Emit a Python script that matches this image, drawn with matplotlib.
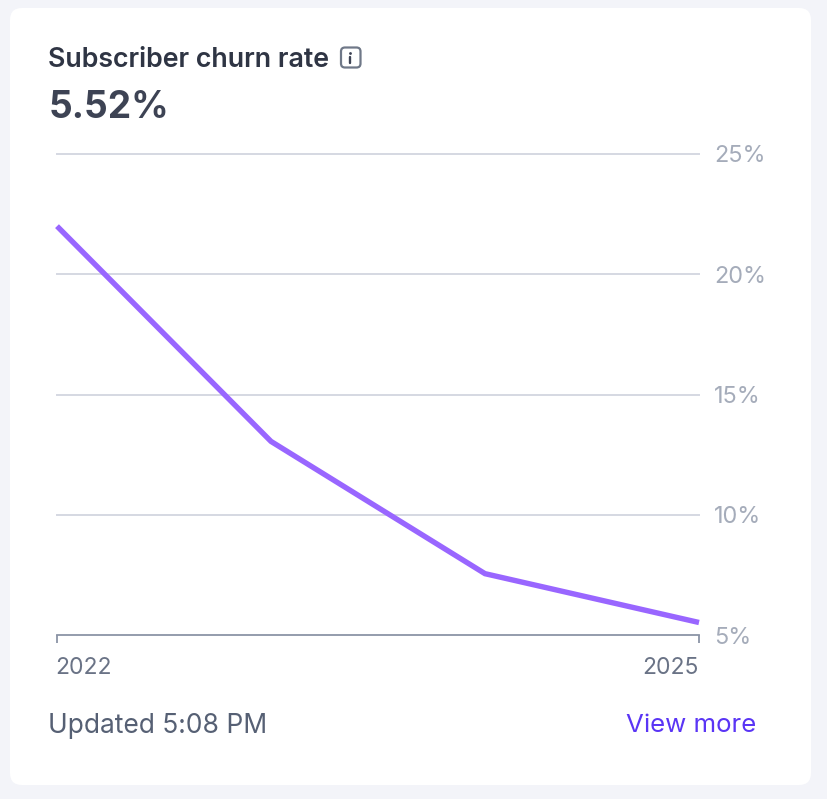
import matplotlib
matplotlib.use('Agg')
import matplotlib.pyplot as plt
from matplotlib.patches import FancyBboxPatch, Circle
from matplotlib.transforms import ScaledTranslation

plt.rcParams['font.family'] = ['Inter', 'DejaVu Sans']

years = [2022, 2023, 2024, 2025]
churn = [22.0, 13.05, 7.55, 5.52]
y_ticks = [5, 10, 15, 20, 25]
x_tick_years = [2022, 2025]

W, H = 828, 799
fig = plt.figure(figsize=(W / 100, H / 100), dpi=100, facecolor='#f3f4f9')

# overlay in pixel coordinates for the card and texts
bg = fig.add_axes([0, 0, 1, 1], zorder=0)
bg.set_xlim(0, W)
bg.set_ylim(H, 0)
bg.axis('off')
bg.add_patch(FancyBboxPatch((10, 8), 801, 777, boxstyle='round,pad=0,rounding_size=12',
                            fc='white', ec='none'))

bg.text(48.5, 60, 'Subscriber churn rate', fontsize=19.3, fontweight=600, color='#2f3544', va='center', ha='left')
bg.text(48.5, 108, '5.52%', fontsize=26.7, fontweight='bold', color='#3d4354', va='center', ha='left')
bg.text(48.5, 726, 'Updated 5:08 PM', fontsize=19, color='#566074', va='center', ha='left')
bg.text(756, 726, 'View more', fontsize=18.6, color='#5a35f5', va='center', ha='right')

# info icon
bg.add_patch(FancyBboxPatch((341, 47.5), 19.5, 20, boxstyle='round,pad=0,rounding_size=4',
                            fc='white', ec='#6f7888', lw=1.6))
bg.add_patch(Circle((350.5, 53.5), 1.4, fc='#3d4354', ec='none'))
bg.plot([350.5, 350.5], [57, 62.5], color='#3d4354', lw=1.7, solid_capstyle='round')

left, right, top, bottom = 57, 699, 154, 635
ax = fig.add_axes([left / W, 1 - bottom / H, (right - left) / W, (bottom - top) / H], zorder=1)
ax.patch.set_alpha(0)
ax.set_xlim(years[0], years[-1])
ax.set_ylim(y_ticks[0], y_ticks[-1])

for v in y_ticks[1:]:
    ax.axhline(v, color='#d5d8e2', lw=1.4, zorder=1, clip_on=False)
ax.plot(years, churn, color='#9966ff', lw=3.9, solid_joinstyle='miter', solid_capstyle='butt',
        zorder=3, clip_on=False)

for s in ['top', 'left', 'right']:
    ax.spines[s].set_visible(False)
ax.spines['bottom'].set_color('#8b94a6')
ax.spines['bottom'].set_linewidth(1.3)

ax.yaxis.tick_right()
ax.set_yticks(y_ticks)
ax.set_yticklabels([f'{v}%' for v in y_ticks], fontsize=16.9, color='#a5acba')
ax.tick_params(axis='y', length=0, pad=11)
ax.set_xticks(x_tick_years)
ax.set_xticklabels([str(y) for y in x_tick_years], fontsize=16.5, color='#6a7386')
ax.get_xticklabels()[0].set_ha('left')
ax.get_xticklabels()[1].set_ha('right')
ax.tick_params(axis='x', length=6, width=1.3, color='#8b94a6', pad=10)

# the first year label sits flush with the axis start
lab = ax.get_xticklabels()[0]
lab.set_transform(lab.get_transform() + ScaledTranslation(-2 / 100, 0, fig.dpi_scale_trans))

fig.savefig('out.png', dpi=100, facecolor=fig.get_facecolor())
